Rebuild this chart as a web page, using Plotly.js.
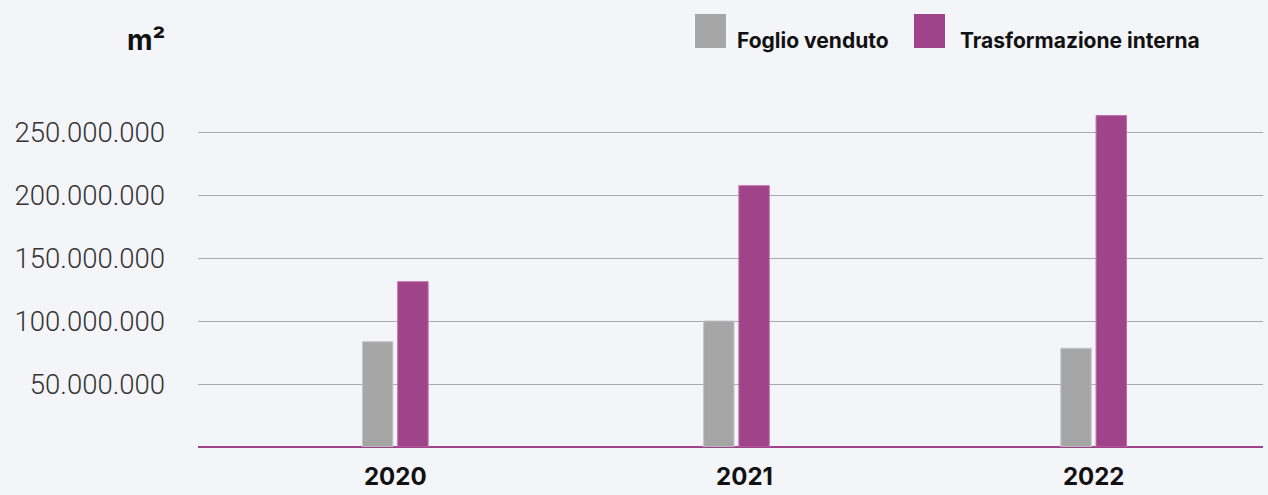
<!DOCTYPE html>
<html>
<head>
<meta charset="utf-8">
<script src="https://cdn.plot.ly/plotly-3.0.1.min.js"></script>
<style>
html,body{margin:0;padding:0;background:#f4f5f9;}
#chart{width:1268px;height:495px;}
</style>
</head>
<body>
<div id="chart"></div>
<script>
const categories = ["2020", "2021", "2022"];
const seriesNames = ["Foglio venduto", "Trasformazione interna"];
const foglioVenduto = [83.5e6, 100e6, 78.3e6];
const trasformazioneInterna = [131.2e6, 207.4e6, 263e6];
const yTickVals = [50e6, 100e6, 150e6, 200e6, 250e6];
const unitLabel = "m²";

const grey = "#a6a6a6";
const purple = "#a0448a";

const shift = -0.023; // the middle group sits slightly left in the original
const traces = [
  {
    type: "bar", x: categories, y: foglioVenduto, name: seriesNames[0],
    width: 0.087, offset: [-0.094, -0.094 + shift, -0.094],
    marker: {color: grey, line: {color: "#c4c4c4", width: 1}},
    showlegend: false, hoverinfo: "skip"
  },
  {
    type: "bar", x: categories, y: trasformazioneInterna, name: seriesNames[1],
    width: 0.087, offset: [0.007, 0.007 + shift, 0.007],
    marker: {color: purple, line: {color: "#c06aab", width: 1}},
    showlegend: false, hoverinfo: "skip"
  }
];

const layout = {
  width: 1268, height: 495,
  paper_bgcolor: "#f4f5f9", plot_bgcolor: "#f4f5f9",
  margin: {l: 198, r: 5, t: 100, b: 48},
  separators: ",.",
  barmode: "overlay",
  xaxis: {
    type: "category", range: [-0.565, 2.485],
    showgrid: false, zeroline: false, showline: false, ticks: "",
    tickfont: {family: "Inter, 'DejaVu Sans', sans-serif", size: 24, color: "#111", weight: 700},
    ticklabelstandoff: 13
  },
  yaxis: {
    range: [0, 275.4e6], tickvals: yTickVals, tickformat: ",d",
    showgrid: true, gridcolor: "#a9a9b2", gridwidth: 1,
    zeroline: true, zerolinecolor: purple, zerolinewidth: 2,
    showline: false, ticks: "",
    tickfont: {family: "Roboto, sans-serif", size: 27.5, color: "#333", weight: 300},
    ticklabelstandoff: 32
  },
  shapes: [],
  annotations: []
};

function px2paperX(px){ return (px - 198) / (1268 - 198 - 5); }
function px2paperY(py){ return (495 - 48 - py) / (495 - 100 - 48); }
const legendItems = [
  {color: grey, x0: 695, x1: 726, textX: 735, name: seriesNames[0]},
  {color: purple, x0: 914, x1: 945, textX: 958, name: seriesNames[1]}
];
legendItems.forEach(it => {
  layout.shapes.push({
    type: "rect", xref: "paper", yref: "paper",
    x0: px2paperX(it.x0), x1: px2paperX(it.x1),
    y0: px2paperY(48), y1: px2paperY(14),
    fillcolor: it.color, line: {width: 0}
  });
  layout.annotations.push({
    xref: "paper", yref: "paper", x: px2paperX(it.textX), y: px2paperY(41),
    xanchor: "left", yanchor: "middle", showarrow: false,
    text: it.name,
    font: {family: "Inter, sans-serif", size: 21, color: "#111", weight: 700}
  });
});
layout.annotations.push({
  xref: "paper", yref: "paper", x: px2paperX(167), y: px2paperY(40),
  xanchor: "right", yanchor: "middle", showarrow: false,
  text: unitLabel,
  font: {family: "Inter, sans-serif", size: 28, color: "#111", weight: 700}
});

Plotly.newPlot("chart", traces, layout, {staticPlot: true, displayModeBar: false});
</script>
</body>
</html>
